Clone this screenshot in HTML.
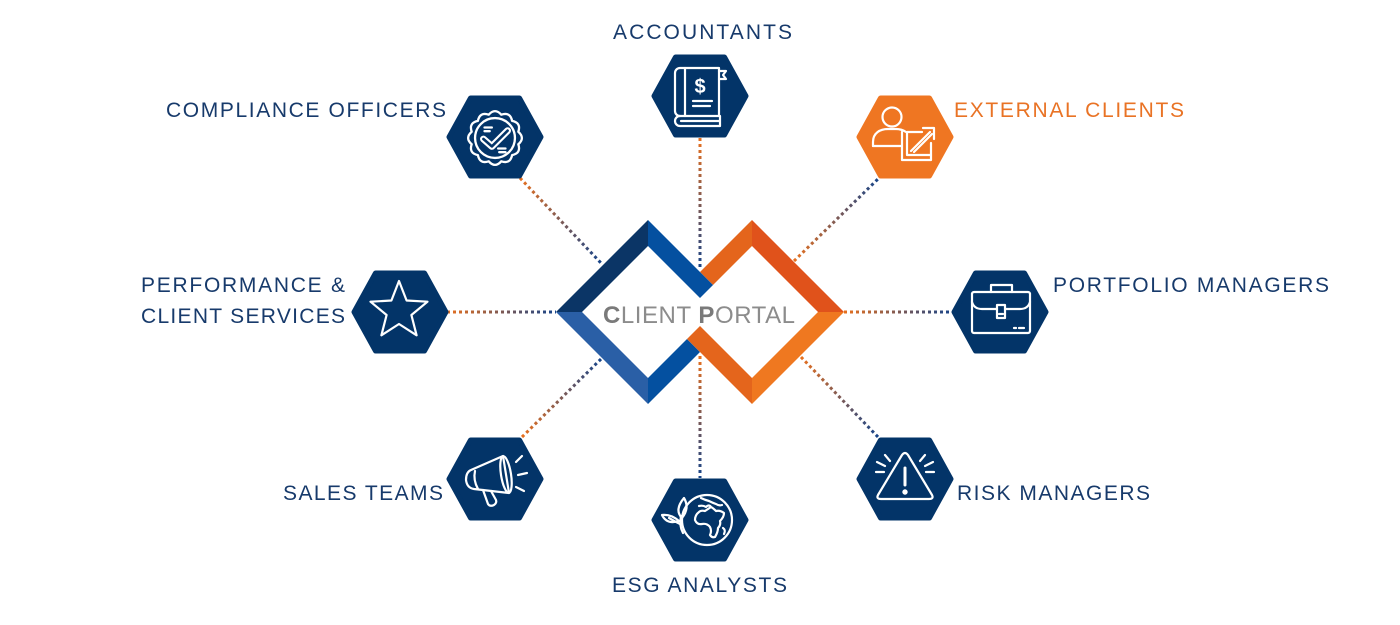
<!DOCTYPE html>
<html>
<head>
<meta charset="utf-8">
<style>
  html, body { margin: 0; padding: 0; background: #ffffff; }
  svg { display: block; }
  .lbl { font-family: "Liberation Sans", "DejaVu Sans", sans-serif; font-size: 21px; fill: #173a6b; }
  .ic { fill: none; stroke: #ffffff; stroke-width: 2.2; stroke-linecap: round; stroke-linejoin: round; }
</style>
</head>
<body>
<svg width="1400" height="625" viewBox="0 0 1400 625" xmlns="http://www.w3.org/2000/svg">
  <defs>
    <path id="hex" d="M-46,0 L-24.5,-39 L24.5,-39 L46,0 L24.5,39 L-24.5,39 Z" stroke-width="5" stroke-linejoin="round"/>
    <linearGradient id="gComp" gradientUnits="userSpaceOnUse" x1="520" y1="178" x2="601" y2="263">
      <stop offset="0" stop-color="#e8701e"/><stop offset="1" stop-color="#16448a"/>
    </linearGradient>
    <linearGradient id="gAcc" gradientUnits="userSpaceOnUse" x1="700" y1="138" x2="700" y2="270">
      <stop offset="0" stop-color="#e8701e"/><stop offset="1" stop-color="#16448a"/>
    </linearGradient>
    <linearGradient id="gExt" gradientUnits="userSpaceOnUse" x1="794" y1="261" x2="879" y2="178">
      <stop offset="0" stop-color="#e8701e"/><stop offset="1" stop-color="#16448a"/>
    </linearGradient>
    <linearGradient id="gPerf" gradientUnits="userSpaceOnUse" x1="447" y1="312" x2="556" y2="312">
      <stop offset="0" stop-color="#e8701e"/><stop offset="1" stop-color="#16448a"/>
    </linearGradient>
    <linearGradient id="gPort" gradientUnits="userSpaceOnUse" x1="844" y1="312" x2="953" y2="312">
      <stop offset="0" stop-color="#e8701e"/><stop offset="1" stop-color="#16448a"/>
    </linearGradient>
    <linearGradient id="gSales" gradientUnits="userSpaceOnUse" x1="522" y1="437" x2="601" y2="359">
      <stop offset="0" stop-color="#e8701e"/><stop offset="1" stop-color="#16448a"/>
    </linearGradient>
    <linearGradient id="gRisk" gradientUnits="userSpaceOnUse" x1="801" y1="357" x2="878" y2="437">
      <stop offset="0" stop-color="#e8701e"/><stop offset="1" stop-color="#16448a"/>
    </linearGradient>
    <linearGradient id="gEsg" gradientUnits="userSpaceOnUse" x1="700" y1="356" x2="700" y2="478">
      <stop offset="0" stop-color="#e8701e"/><stop offset="1" stop-color="#16448a"/>
    </linearGradient>
  </defs>

  <!-- connectors -->
  <g fill="none" stroke-width="3" stroke-dasharray="3 3">
    <line x1="520" y1="178" x2="601" y2="263" stroke="url(#gComp)"/>
    <line x1="700" y1="138" x2="700" y2="270" stroke="url(#gAcc)"/>
    <line x1="794" y1="261" x2="879" y2="178" stroke="url(#gExt)"/>
    <line x1="447" y1="312" x2="556" y2="312" stroke="url(#gPerf)"/>
    <line x1="844" y1="312" x2="953" y2="312" stroke="url(#gPort)"/>
    <line x1="522" y1="437" x2="601" y2="359" stroke="url(#gSales)"/>
    <line x1="801" y1="357" x2="878" y2="437" stroke="url(#gRisk)"/>
    <line x1="700" y1="356" x2="700" y2="478" stroke="url(#gEsg)"/>
  </g>

  <!-- central interlocking diamonds -->
  <g>
    <polygon points="556,312 648,220 648,246 582,312" fill="#0b3566"/>
    <polygon points="556,312 582,312 648,378 648,404" fill="#2a5fa6"/>
    <polygon points="648,404 700,352 687,339 648,378" fill="#0450a0"/>
    <polygon points="752,220 844,312 818,312 752,246" fill="#e0521b"/>
    <polygon points="844,312 752,404 752,378 818,312" fill="#ef7820"/>
    <polygon points="687,339 752,404 752,378 700,326" fill="#e4651c"/>
    <polygon points="752,220 700,272 713,285 752,246" fill="#e4651c"/>
    <polygon points="648,220 713,285 700,298 648,246" fill="#0450a0"/>
  </g>
  <text x="603" y="323" font-family="Liberation Sans, DejaVu Sans, sans-serif" font-size="24" fill="#8c8c8c" textLength="192" lengthAdjust="spacing"><tspan font-weight="bold" fill="#7a7a7a">C</tspan>LIENT <tspan font-weight="bold" fill="#7a7a7a">P</tspan>ORTAL</text>

  <!-- hexagons -->
  <g fill="#033468" stroke="#033468">
    <use href="#hex" transform="translate(700,96)"/>
    <use href="#hex" transform="translate(495,137)"/>
    <use href="#hex" transform="translate(400,312)"/>
    <use href="#hex" transform="translate(1000,312)"/>
    <use href="#hex" transform="translate(495,479)"/>
    <use href="#hex" transform="translate(905,479)"/>
    <use href="#hex" transform="translate(700,520)"/>
  </g>
  <g fill="#ef7622" stroke="#ef7622">
    <use href="#hex" transform="translate(905,137)"/>
  </g>

  <!-- Accountants: book -->
  <g transform="translate(700,96)" class="ic">
    <path d="M-20,-28 H19 V20 H-20 A5,5 0 0 1 -25,15 V-23 A5,5 0 0 1 -20,-28 Z"/>
    <path d="M-15,-28 V20"/>
    <path d="M-20,20 A5,5 0 0 0 -20,30 H20 V20"/>
    <path d="M-19,25 H19"/>
    <path d="M19,-25 H26 L23,-21 L26,-17 H19"/>
    <path d="M-7,5 H12 M-7,10 H10"/>
  </g>
  <text x="700" y="-3" transform="translate(0,96)" font-family="Liberation Sans, DejaVu Sans, sans-serif" font-size="20" font-weight="bold" fill="#ffffff" text-anchor="middle">$</text>

  <!-- Compliance: seal -->
  <g transform="translate(495,138) scale(1.05)" class="ic">
    <path d="M22.2,-6 Q29,0 22.2,6 Q25.1,14.5 16.3,16.3 Q14.5,25.1 6,22.2 Q0,29 -6,22.2 Q-14.5,25.1 -16.3,16.3 Q-25.1,14.5 -22.2,6 Q-29,0 -22.2,-6 Q-25.1,-14.5 -16.3,-16.3 Q-14.5,-25.1 -6,-22.2 Q0,-29 6,-22.2 Q14.5,-25.1 16.3,-16.3 Q25.1,-14.5 22.2,-6 Z"/>
    <circle cx="0" cy="0" r="19"/>
    <path d="M-11,1 L-3,8 L12,-7" stroke-width="6.5"/>
    <path d="M-11,1 L-3,8 L12,-7" stroke="#033468" stroke-width="2.5"/>
    <path d="M-10,-10 H-3 M-10,-6.5 H-5 M3,10 H10 M4,13.5 H10"/>
  </g>

  <!-- External clients: person + arrow box -->
  <g transform="translate(905,137)" class="ic">
    <circle cx="-13" cy="-20" r="9.5"/>
    <path d="M-32,9 V5 C-32,-4 -25,-8 -17,-8 H-9 C-5,-8 -2,-7 1,-5"/>
    <path d="M-32,9 H-3"/>
    <path d="M-3,-5 V23 H26 V6"/>
    <path d="M17,-5 H2 V18 H26"/>
    <path d="M6,14 L25,-5 M18,-9 H29 V2"/>
    <path d="M9,15 L27,-3"/>
  </g>

  <!-- Performance: star -->
  <g transform="translate(399,311)" class="ic" stroke-width="2.6">
    <path d="M0,-30 L7.6,-10.5 L28.5,-9.3 L12.4,4 L17.6,24.3 L0,13 L-17.6,24.3 L-12.4,4 L-28.5,-9.3 L-7.6,-10.5 Z"/>
  </g>

  <!-- Portfolio: briefcase -->
  <g transform="translate(1000,312)" class="ic">
    <rect x="-28" y="-20" width="58" height="41" rx="2"/>
    <path d="M-9,-20 V-27 H12 V-20"/>
    <path d="M-28,-10 Q-26,-3 -18,-3 H-3 M5,-3 H20 Q28,-3 30,-10"/>
    <rect x="-3" y="-7" width="8" height="13"/>
    <path d="M-1,2 H3"/>
    <path d="M14,16 H16 M19,16 H24"/>
  </g>

  <!-- Sales: megaphone -->
  <g transform="translate(495,479)" class="ic">
    <path d="M-24,-9 L8,-23 L14,14 L-21,10 Q-28,9 -29,1 Q-29,-7 -24,-9 Z"/>
    <ellipse cx="11" cy="-4.5" rx="5" ry="18.5" transform="rotate(-9 11 -4.5)"/>
    <path d="M-20,-8 Q-22,1 -17,10"/>
    <path d="M-12,11 L-7,25 Q-5,28 -1,26 Q2,24 1,21 L-4,12"/>
    <path d="M21,-17 L27,-23 M23,-4 L32,-6 M21,8 L29,12"/>
  </g>

  <!-- Risk: warning triangle -->
  <g transform="translate(905,479)" class="ic">
    <path d="M-3,-24 Q0,-28 3,-24 L27,16 Q29,20 24,20 H-24 Q-29,20 -27,16 Z"/>
    <path d="M0,-11 V6" stroke-width="3"/>
    <circle cx="0" cy="13" r="1.6" fill="#ffffff"/>
    <path d="M-29,-7 H-21 M-28,-17 L-20,-13 M-20,-24 L-15,-18"/>
    <path d="M21,-7 H29 M20,-13 L28,-17 M15,-18 L20,-24"/>
  </g>

  <!-- ESG: globe + leaves -->
  <g transform="translate(707,520)" class="ic" stroke-width="1.8">
    <circle cx="0" cy="0" r="25"/>
    <path d="M-6,-22 Q-2,-20 2,-19 Q6,-17 9,-16 Q12,-14 15,-15 M-8,-14 Q-4,-15 -1,-13 Q2,-16 4,-13 Q1,-11 -2,-9 Q-6,-10 -8,-8 Q-12,-5 -12,0 Q-10,5 -5,4 Q0,3 3,7 Q5,11 3,15 Q5,18 8,17 Q11,12 11,8 Q14,5 13,1 Q17,-3 17,-7 Q13,-10 9,-9 Q6,-12 4,-13"/>
    <path d="M16,8 Q19,10 17,14"/>
    <!-- upper leaf -->
    <path d="M-25,-2 Q-33,-10 -23,-22 Q-17,-12 -25,-2 Z"/>
    <!-- lower leaf -->
    <path d="M-28,1 Q-36,-6 -45,-5 Q-40,5 -28,1 Z"/>
    <!-- stem -->
    <path d="M-24,13 Q-28,6 -26,-4"/>
    <path d="M-27,4 Q-33,1 -38,-2"/>
  </g>

  <!-- labels -->
  <text class="lbl" x="613" y="39" textLength="179" lengthAdjust="spacing">ACCOUNTANTS</text>
  <text class="lbl" x="166" y="117" textLength="280" lengthAdjust="spacing">COMPLIANCE OFFICERS</text>
  <text class="lbl" x="954" y="117" textLength="230" lengthAdjust="spacing" style="fill:#e97325">EXTERNAL CLIENTS</text>
  <text class="lbl" x="141" y="292" textLength="204" lengthAdjust="spacing">PERFORMANCE &amp;</text>
  <text class="lbl" x="141" y="323" textLength="204" lengthAdjust="spacing">CLIENT SERVICES</text>
  <text class="lbl" x="1053" y="292" textLength="276" lengthAdjust="spacing">PORTFOLIO MANAGERS</text>
  <text class="lbl" x="283" y="500" textLength="160" lengthAdjust="spacing">SALES TEAMS</text>
  <text class="lbl" x="957" y="500" textLength="193" lengthAdjust="spacing">RISK MANAGERS</text>
  <text class="lbl" x="612" y="592" textLength="175" lengthAdjust="spacing">ESG ANALYSTS</text>
</svg>
</body>
</html>
